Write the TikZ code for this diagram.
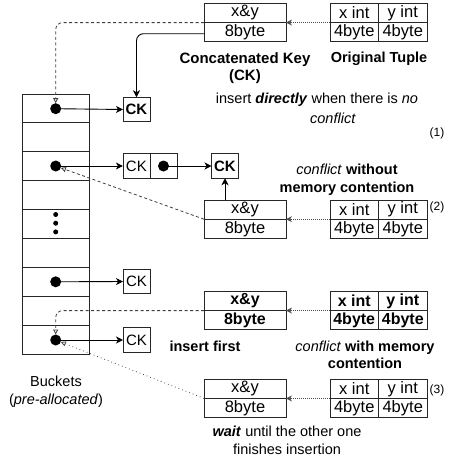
\documentclass[tikz,border=0pt]{standalone}
\usepackage{fontspec}
\setmainfont{Liberation Sans}
\usetikzlibrary{arrows.meta}
\begin{document}
\begin{tikzpicture}[x=1pt,y=-1pt,
  every node/.style={font=\fontsize{14.5}{17.5}\selectfont, inner sep=0pt, outer sep=0pt},
  lbl/.style={align=center},
  bucket/.style={draw=black!85, line width=0.9pt, minimum width=67.4pt, minimum height=28.9pt},
  cell/.style={draw=black!85, line width=0.8pt, minimum height=19.2pt, font=\fontsize{16.5}{19}\selectfont},
  bcell/.style={cell, font=\fontsize{16}{19}\selectfont\bfseries},
  kcell/.style={minimum width=82pt},
  tcell/.style={minimum width=48.5pt},
  ckbox/.style={draw=black!85, line width=0.8pt, minimum width=27pt, minimum height=24.5pt, font=\fontsize{15}{18}\selectfont},
  dotn/.style={circle, fill=black, minimum size=11pt},
  sdot/.style={circle, fill=black, minimum size=5pt},
  solidarrow/.style={draw=black, line width=0.9pt, -{Stealth[length=7pt,width=7pt,inset=2pt]}},
  dashedarrow/.style={draw=black!75, line width=0.8pt, dash pattern=on 3pt off 2.5pt, -{Triangle[open,length=5pt,width=5pt]}},
  sparsearrow/.style={draw=black!70, line width=0.8pt, dash pattern=on 0.8pt off 3pt, -{Triangle[open,length=5pt,width=5pt]}},
  dotarrow/.style={draw=black!70, line width=0.8pt, dash pattern=on 0.8pt off 1.2pt, -{Stealth[length=6pt,width=6pt,inset=2pt]}},
  num/.style={font=\fontsize{12}{14}\selectfont}
]
\useasboundingbox (0,0) rectangle (448,461);

% buckets
\node[bucket] (b1) at (56,108.45) {};
\node[bucket] (b2) at (56,137.35) {};
\node[bucket] (b3) at (56,166.25) {};
\node[bucket] (b4) at (56,195.15) {};
\node[bucket] (b5) at (56,224.05) {};
\node[bucket] (b6) at (56,252.95) {};
\node[bucket] (b7) at (56,281.85) {};
\node[bucket] (b8) at (56,310.75) {};
\node[bucket] (b9) at (56,339.65) {};

\node[dotn] (d1) at (55.7,108.7) {};
\node[dotn] (d3) at (55.7,166) {};
\node[dotn] (d7) at (55.7,281.8) {};
\node[dotn] (d9) at (55.7,340) {};
\node[sdot] (v1) at (55.7,214.5) {};
\node[sdot] (v2) at (55.7,223.2) {};
\node[sdot] (v3) at (55.7,231.9) {};

% CK boxes
\node[ckbox, font=\fontsize{15}{18}\selectfont\bfseries] (ck1) at (136.5,109.5) {CK};
\node[ckbox] (ck3a) at (136.4,166) {CK};
\node[ckbox, minimum width=27.6pt] (ck3b) at (164,166) {};
\node[dotn] (d3b) at (163.5,166) {};
\node[ckbox, font=\fontsize{15}{18}\selectfont\bfseries] (ck3c) at (225,166) {CK};
\node[ckbox] (ck7) at (136.5,281.5) {CK};
\node[ckbox] (ck9) at (136.5,340) {CK};

% group 1
\node[cell,kcell] (k1t) at (245,13) {x\&y};
\node[cell,kcell] (k1b) at (245,32.2) {8byte};
\node[cell,tcell] (t1x) at (354.25,13) {x int};
\node[cell,tcell] (t1y) at (402.75,13) {y int};
\node[cell,tcell] (t1a) at (354.25,32.2) {4byte};
\node[cell,tcell] (t1b) at (402.75,32.2) {4byte};

% group 2
\node[cell,kcell] (k2t) at (245,209.6) {x\&y};
\node[cell,kcell] (k2b) at (245,228.8) {8byte};
\node[cell,tcell] (t2x) at (354.25,209.6) {x int};
\node[cell,tcell] (t2y) at (402.75,209.6) {y int};
\node[cell,tcell] (t2a) at (354.25,228.8) {4byte};
\node[cell,tcell] (t2b) at (402.75,228.8) {4byte};

% group 3 (bold)
\node[bcell,kcell] (k3t) at (245,301) {x\&y};
\node[bcell,kcell] (k3b) at (245,320.2) {8byte};
\node[bcell,tcell] (t3x) at (354.25,301) {x int};
\node[bcell,tcell] (t3y) at (402.75,301) {y int};
\node[bcell,tcell] (t3a) at (354.25,320.2) {4byte};
\node[bcell,tcell] (t3b) at (402.75,320.2) {4byte};

% group 4
\node[cell,kcell] (k4t) at (245,388.8) {x\&y};
\node[cell,kcell] (k4b) at (245,408) {8byte};
\node[cell,tcell] (t4x) at (354.25,388.8) {x int};
\node[cell,tcell] (t4y) at (402.75,388.8) {y int};
\node[cell,tcell] (t4a) at (354.25,408) {4byte};
\node[cell,tcell] (t4b) at (402.75,408) {4byte};

% labels
\node[lbl, font=\fontsize{15}{17.5}\selectfont\bfseries] (lck) at (245,68) {Concatenated Key\\(CK)};
\node[lbl, font=\fontsize{14.5}{17.5}\selectfont\bfseries] (lot) at (379,59) {Original Tuple};
\node[lbl] (lins1) at (317,100) {insert \textbf{\textit{directly}} when there is \textit{no}};
\node[lbl] (lins2) at (333,118) {\textit{conflict}};
\node[num] (n1) at (437,133) {(1)};
\node[lbl] (lcw) at (347,179.5) {\textit{conflict} \textbf{without}\\\textbf{memory contention}};
\node[num] (n2) at (437,207) {(2)};
\node[lbl, font=\fontsize{14.5}{17.5}\selectfont\bfseries] (lif) at (205,346) {insert first};
\node[lbl] (lcm) at (365,355) {\textit{conflict} \textbf{with memory}\\\textbf{contention}};
\node[num] (n3) at (437,390) {(3)};
\node[lbl] (lbk) at (56,391.5) {Buckets\\(\textit{pre-allocated})};
\node[lbl] (lwait) at (287,440.5) {\textbf{\textit{wait}} until the other one\\finishes insertion};

% connectors
\draw[dotarrow] (t1a.north west) -- (k1b.north east);
\draw[dotarrow] (t2a.north west) -- (k2b.north east);
\draw[dotarrow] (t3a.north west) -- (k3b.north east);
\draw[dotarrow] (t4a.north west) -- (k4b.north east);

\draw[dashedarrow, rounded corners=7pt] (k1b.north west) -| (d1.north);
\draw[solidarrow, rounded corners=7pt] ([yshift=-1.5pt]k1b.west) -| (ck1.north);

\draw[solidarrow] (d1.center) -- (ck1.west);
\draw[solidarrow] (d3.center) -- (ck3a.west);
\draw[solidarrow] (d3b.center) -- (ck3c.west);
\draw[solidarrow] (d7.center) -- (ck7.west);
\draw[solidarrow] (d9.center) -- (ck9.west);

\draw[solidarrow] (k2t.north -| ck3c.south) -- (ck3c.south);
\draw[dashedarrow] (k2b.north west) -- (d3);
\draw[dashedarrow, rounded corners=7pt] (k3b.north west) -| (d9.north);
\draw[sparsearrow] (k4b.north west) -- (d9);
\end{tikzpicture}
\end{document}
